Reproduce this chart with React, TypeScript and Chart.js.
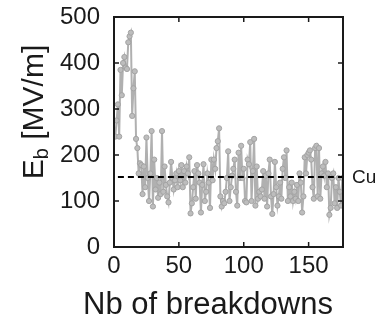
import { useEffect, useRef } from "react";
import { Chart, registerables } from "chart.js";

Chart.register(...registerables);

// Breakdown field values E_b [MV/m], breakdown #1 .. #176
const ebValues = [
  240, 275, 310, 240, 385, 330, 400, 413, 390, 387, 445, 458, 466, 285, 345, 382, 235, 215, 160, 182, 178,
  115, 175, 130, 238, 150, 100, 160, 252, 88, 190, 125, 150, 107, 140, 115, 252, 120, 175, 135, 110, 97, 140, 185, 150, 125, 145, 160, 130, 165, 145,
  178, 130, 165, 140, 175, 160, 195, 73, 95, 130, 165, 105, 178, 160, 140, 75, 135, 180, 100, 120, 160, 140, 85, 190, 145, 190, 170, 215, 230, 258,
  110, 88, 100, 95, 120, 150, 208, 100, 130, 155, 170, 190, 120, 90, 205, 150, 220, 150, 170, 100,
  97, 190, 180, 228, 100, 165, 235, 90, 175, 105, 120, 110, 125, 165, 105, 155, 88, 160, 190, 110, 72, 115, 185, 130, 90, 110, 140, 105, 170, 195,
  150, 210, 100, 130, 110, 140, 100, 120, 105, 135, 100, 160, 140, 75, 110, 195, 160, 200, 205, 210,
  190, 130, 105, 215, 220, 110, 215, 105, 160, 175, 155, 185, 130, 160, 70, 85, 150, 160, 95, 130, 85, 150, 120, 90, 150,
];
const breakdownNumbers = ebValues.map((_, i) => i + 1);

const xTickValues = [0, 50, 100, 150];
const yTickValues = [0, 100, 200, 300, 400, 500];
const xMin = 0;
const xMax = 176.5;
const yMin = 0;
const yMax = 500;

const cuLevel = 152;
const cuStart = 3;
const cuLabel = "Cu";

const xTitle = "Nb of breakdowns";
const yTitleMain = "E";
const yTitleSub = "b";
const yTitleRest = " [MV/m]";

const FONT = "'Liberation Sans', Arial, Helvetica, sans-serif";
const INK = "#1a1a1a";

const decorPlugin = {
  id: "decor",
  afterDraw(chart: any) {
    const ctx = chart.ctx as CanvasRenderingContext2D;
    const { left, right, top, bottom } = chart.chartArea;
    const xs = chart.scales.x;
    const ys = chart.scales.y;
    ctx.save();
    ctx.strokeStyle = INK;
    ctx.lineWidth = 2;
    ctx.strokeRect(left, top, right - left, bottom - top);
    ctx.lineWidth = 1.5;
    const tl = 5;
    const seg = (x1: number, y1: number, x2: number, y2: number) => {
      ctx.beginPath();
      ctx.moveTo(x1, y1);
      ctx.lineTo(x2, y2);
      ctx.stroke();
    };
    xTickValues.forEach((v) => {
      const px = xs.getPixelForValue(v);
      seg(px, bottom, px, bottom - tl);
      seg(px, top, px, top + tl);
    });
    yTickValues.forEach((v) => {
      const py = ys.getPixelForValue(v);
      seg(left, py, left + tl, py);
      seg(right, py, right - tl, py);
    });

    ctx.fillStyle = INK;
    // Cu label
    ctx.font = `19px ${FONT}`;
    ctx.textAlign = "left";
    ctx.textBaseline = "middle";
    ctx.fillText(cuLabel, right + 9, ys.getPixelForValue(cuLevel) + 1);

    // x title
    ctx.font = `31px ${FONT}`;
    ctx.textAlign = "center";
    ctx.textBaseline = "middle";
    ctx.fillText(xTitle, 208, 305);

    // y title (rotated, with subscript)
    const big = `30px ${FONT}`;
    const small = `20px ${FONT}`;
    ctx.font = big;
    const wE = ctx.measureText(yTitleMain).width;
    const wR = ctx.measureText(yTitleRest).width;
    ctx.font = small;
    const wb = ctx.measureText(yTitleSub).width;
    const total = wE + wb + wR;
    ctx.translate(33, 112);
    ctx.rotate(-Math.PI / 2);
    ctx.textAlign = "left";
    ctx.textBaseline = "alphabetic";
    let x0 = -total / 2;
    const base = 10;
    ctx.font = big;
    ctx.fillText(yTitleMain, x0, base);
    x0 += wE;
    ctx.font = small;
    ctx.fillText(yTitleSub, x0, base + 5);
    x0 += wb;
    ctx.font = big;
    ctx.fillText(yTitleRest, x0, base);
    ctx.restore();
  },
};

export default function App() {
  const ref = useRef<HTMLCanvasElement | null>(null);
  useEffect(() => {
    if (!ref.current) return;
    const chart = new Chart(ref.current, {
      type: "line",
      data: {
        datasets: [
          {
            data: [
              { x: cuStart, y: cuLevel },
              { x: xMax, y: cuLevel },
            ],
            borderColor: "#000000",
            borderWidth: 2,
            borderDash: [6, 4],
            pointRadius: 0,
            order: 0,
          },
          {
            data: breakdownNumbers.map((n, i) => ({ x: n, y: ebValues[i] })),
            borderColor: "#b0b0b0",
            borderWidth: 2,
            pointRadius: 2.6,
            pointBackgroundColor: "#bdbdbd",
            pointBorderColor: "#a3a3a3",
            pointBorderWidth: 1,
            order: 1,
          },
        ],
      },
      options: {
        responsive: false,
        animation: false,
        devicePixelRatio: 1,
        layout: { padding: { top: 17, right: 36, left: 0, bottom: 0 } },
        plugins: { legend: { display: false }, tooltip: { enabled: false } },
        scales: {
          x: {
            type: "linear",
            min: xMin,
            max: xMax,
            afterFit: (s: any) => {
              s.height = 73;
              s.paddingLeft = 0;
              s.paddingRight = 0;
            },
            afterBuildTicks: (s: any) => {
              s.ticks = xTickValues.map((v) => ({ value: v }));
            },
            ticks: {
              font: { family: FONT, size: 24 },
              color: INK,
              padding: 5,
              maxRotation: 0,
            },
            grid: { display: false, drawTicks: false, tickLength: 0 },
            border: { display: false },
          },
          y: {
            type: "linear",
            min: yMin,
            max: yMax,
            afterFit: (s: any) => {
              s.width = 114;
              s.paddingTop = 0;
              s.paddingBottom = 0;
            },
            afterBuildTicks: (s: any) => {
              s.ticks = yTickValues.map((v) => ({ value: v }));
            },
            ticks: {
              font: { family: FONT, size: 24 },
              color: INK,
              padding: 14,
            },
            grid: { display: false, drawTicks: false, tickLength: 0 },
            border: { display: false },
          },
        },
      },
      plugins: [decorPlugin],
    });
    return () => chart.destroy();
  }, []);
  return (
    <div style={{ position: "fixed", left: 0, top: 0, width: 379, height: 320, background: "#fff" }}>
      <canvas ref={ref} width={379} height={320} style={{ display: "block", width: 379, height: 320 }} />
    </div>
  );
}
